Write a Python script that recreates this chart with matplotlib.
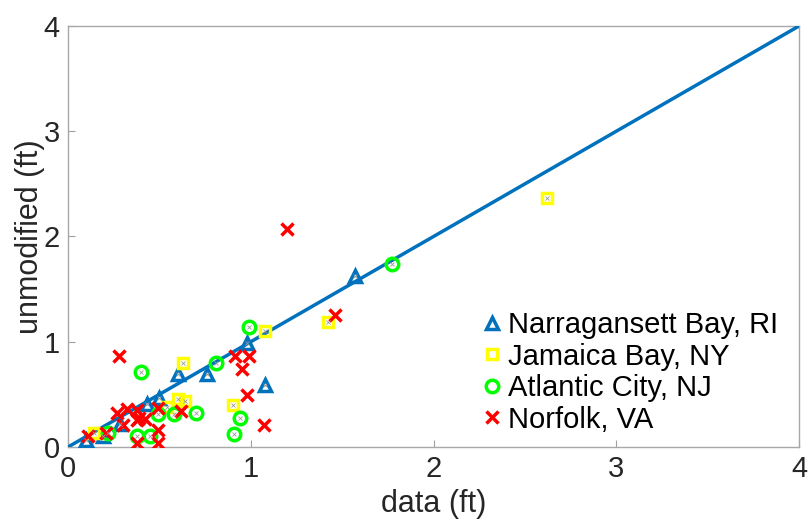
import numpy as np
import matplotlib.pyplot as plt

plt.rcParams['font.family'] = ['Liberation Sans', 'DejaVu Sans']

# values (ft)
narr_x = [0.10, 0.19, 0.285, 0.43, 0.50, 0.60, 0.76, 0.98, 1.08, 1.57]
narr_y = [0.07, 0.10, 0.22, 0.41, 0.47, 0.69, 0.69, 0.99, 0.59, 1.62]

jam_x = [0.14, 0.54, 0.60, 0.64, 0.63, 0.90, 1.08, 1.42, 2.62]
jam_y = [0.13, 0.38, 0.46, 0.44, 0.80, 0.40, 1.10, 1.19, 2.37]

atl_x = [0.22, 0.38, 0.45, 0.40, 0.49, 0.58, 0.70, 0.81, 0.91, 0.94, 0.99, 1.77]
atl_y = [0.13, 0.10, 0.10, 0.71, 0.31, 0.31, 0.32, 0.80, 0.12, 0.28, 1.14, 1.74]

nor_x = [0.11, 0.21, 0.27, 0.28, 0.30, 0.32, 0.38, 0.38, 0.39, 0.42, 0.38,
         0.49, 0.49, 0.49, 0.62, 0.915, 0.95, 0.98, 0.99, 1.07, 1.20, 1.46]
nor_y = [0.10, 0.13, 0.32, 0.86, 0.21, 0.36, 0.35, 0.04, 0.28, 0.27, 0.26,
         0.37, 0.16, 0.04, 0.34, 0.86, 0.74, 0.49, 0.86, 0.21, 2.07, 1.25]

labels = ["Narragansett Bay, RI", "Jamaica Bay, NY", "Atlantic City, NJ", "Norfolk, VA"]
lim = [0, 4]
ticks = [0, 1, 2, 3, 4]

fig = plt.figure(figsize=(8.08, 5.2), dpi=100)
ax = fig.add_axes([0.0842, 0.1404, 0.9047, 0.8096])

ax.plot(lim, lim, color='#0072BD', lw=2.5, zorder=3)

ms = 9
mew = 2.5
ax.plot(narr_x, narr_y, '^', mfc='none', mec='#0072BD', ms=ms, mew=mew, label=labels[0], zorder=4)
ax.plot(jam_x, jam_y, 's', mfc='none', mec='#FFFF00', ms=ms - 1.5, mew=mew, label=labels[1], zorder=4)
ax.plot(atl_x, atl_y, 'o', mfc='none', mec='#00FF00', ms=ms, mew=mew, label=labels[2], zorder=4)
ax.plot(nor_x, nor_y, 'x', color='#FF0000', ms=ms - 1, mew=mew, label=labels[3], zorder=4)

# tiny grey crosses in the open markers
for xs, ys in [(narr_x, narr_y), (jam_x, jam_y), (atl_x, atl_y)]:
    ax.plot(xs, ys, 'x', color='#999999', ms=2.5, mew=0.6, zorder=5)

ax.set_xlim(lim)
ax.set_ylim(lim)
ax.set_xticks(ticks)
ax.set_yticks(ticks)
ax.tick_params(direction='in', length=5, color='#a0a0a0', labelsize=21,
               labelcolor='#262626', pad=6)
for s in ax.spines.values():
    s.set_color('#a8a8a8')
    s.set_linewidth(1)

ax.set_xlabel("data (ft)", fontsize=22, color='#262626', labelpad=4)
ax.set_ylabel("unmodified (ft)", fontsize=22, color='#262626', labelpad=-1)

ax.legend(loc='lower right', bbox_to_anchor=(0.995, -0.01), frameon=False,
          fontsize=21, handlelength=0.6, handletextpad=0.25, labelspacing=0.12,
          borderaxespad=0.2)

fig.savefig("out.png", dpi=100)
